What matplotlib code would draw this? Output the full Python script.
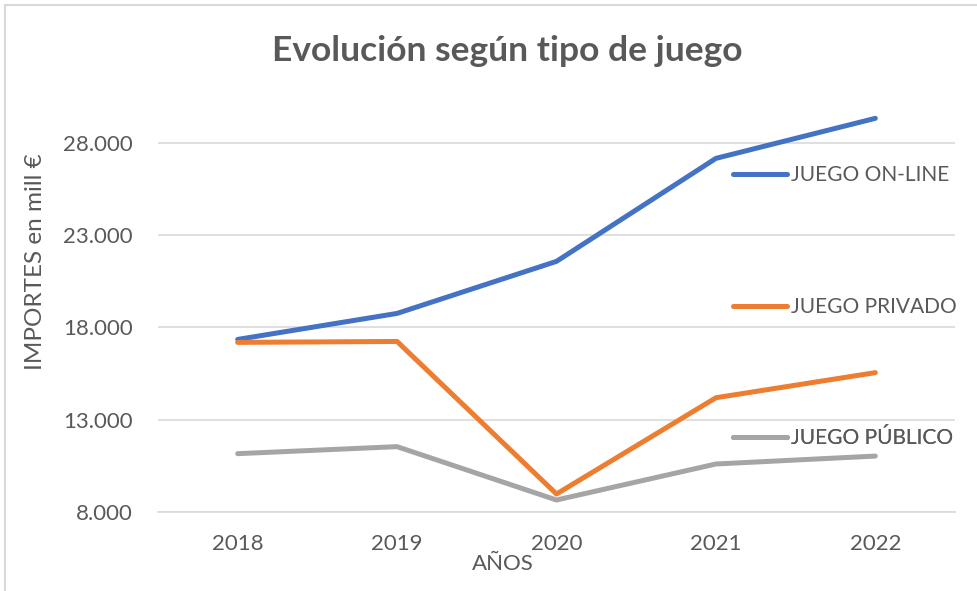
import matplotlib.pyplot as plt
from matplotlib.lines import Line2D
from matplotlib.patches import Rectangle
from matplotlib.ticker import FuncFormatter

# Data
years = ['2018', '2019', '2020', '2021', '2022']
online = [17350, 18760, 21580, 27160, 29330]
privado = [17190, 17240, 8975, 14190, 15550]
publico = [11160, 11540, 8650, 10600, 11030]

series = [
    ('JUEGO ON-LINE', online, '#4472C4'),
    ('JUEGO PRIVADO', privado, '#ED7D31'),
    ('JUEGO PÚBLICO', publico, '#A5A5A5'),
]

plt.rcParams['font.family'] = ['Lato', 'DejaVu Sans']
txt = '#595959'

fig = plt.figure(figsize=(9.77, 5.91), dpi=100)
fig.patches.append(Rectangle((0.005, -0.1), 1.1, 1.092, transform=fig.transFigure,
                             fill=False, edgecolor='#D9D9D9', linewidth=1.5))
ax = fig.add_axes([0.1617, 0.1337, 0.8158, 0.687])

x = range(len(years))
for name, vals, color in series:
    ax.plot(x, vals, color=color, linewidth=3.6, solid_capstyle='round', label=name)

ax.set_xlim(-0.5, len(years) - 0.5)
ax.set_ylim(8000, 30000)
ax.set_yticks([8000, 13000, 18000, 23000, 28000])
ax.yaxis.set_major_formatter(FuncFormatter(lambda v, p: f'{int(v):,}'.replace(',', '.')))
ax.set_xticks(list(x))
ax.set_xticklabels(years)
ax.grid(axis='y', color='#D9D9D9', linewidth=1.2)
ax.set_axisbelow(True)
for s in ['top', 'right', 'left']:
    ax.spines[s].set_visible(False)
ax.spines['bottom'].set_color('#D9D9D9')
ax.spines['bottom'].set_linewidth(1.2)
ax.tick_params(length=0, labelsize=16, colors=txt, pad=16)
ax.tick_params(axis='y', pad=18)

# legend entries placed next to each series on the right
legend_y = [0.830, 0.505, 0.182]
for (name, vals, color), ly in zip(series, legend_y):
    h = Line2D([], [], color=color, linewidth=3.6, solid_capstyle='round')
    leg = ax.legend([h], [name], loc='center left', bbox_to_anchor=(0.711, ly),
                    frameon=False, fontsize=15, handlelength=2.6, handletextpad=0.2,
                    labelcolor=txt, borderaxespad=0)
    ax.add_artist(leg)

fig.text(0.519, 0.913, 'Evolución según tipo de juego', ha='center', va='center',
         fontsize=25.5, fontweight='bold', color=txt)
fig.text(0.036, 0.557, 'IMPORTES en mill €', rotation=90, ha='center', va='center',
         fontsize=17.5, color=txt)
fig.text(0.515, 0.045, 'AÑOS', ha='center', va='center', fontsize=16, color=txt)

fig.savefig('out.png', dpi=100)
